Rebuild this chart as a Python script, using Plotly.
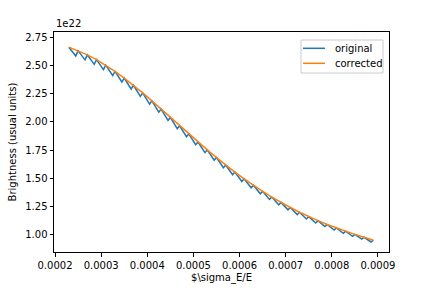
import plotly.graph_objects as go

# sigma_E/E grid of the sawtooth tops (also where the corrected curve is sampled)
x_top = [0.00023, 0.00025, 0.00027, 0.00029, 0.00031, 0.00033, 0.00035, 0.00037,
         0.00039, 0.00041, 0.00043, 0.00045, 0.00047, 0.00049, 0.00051, 0.00053,
         0.00055, 0.00057, 0.00059, 0.00061, 0.00063, 0.00065, 0.00067, 0.00069,
         0.00071, 0.00073, 0.00075, 0.00077, 0.00079, 0.00081, 0.00083, 0.00085,
         0.00087, 0.00089]
# brightness, in units of 1e22
corrected = [2.665, 2.634, 2.597, 2.554, 2.505, 2.450, 2.390, 2.326, 2.258, 2.187,
             2.114, 2.040, 1.966, 1.893, 1.821, 1.751, 1.683, 1.617, 1.554, 1.494,
             1.437, 1.383, 1.332, 1.284, 1.239, 1.197, 1.158, 1.122, 1.088, 1.057,
             1.028, 1.000, 0.974, 0.948]
# sawtooth dips of the original curve
x_dip = [0.000245, 0.000265, 0.000285, 0.000305, 0.000325, 0.000345, 0.000365,
         0.000385, 0.000405, 0.000425, 0.000445, 0.000465, 0.000485, 0.000505,
         0.000525, 0.000545, 0.000565, 0.000585, 0.000605, 0.000625, 0.000645,
         0.000665, 0.000685, 0.000705, 0.000725, 0.000745, 0.000765, 0.000785,
         0.000805, 0.000825, 0.000845, 0.000865, 0.000885]
y_dip = [2.587, 2.552, 2.512, 2.465, 2.413, 2.355, 2.293, 2.227, 2.158, 2.087,
         2.013, 1.940, 1.868, 1.797, 1.727, 1.659, 1.593, 1.530, 1.470, 1.414,
         1.361, 1.311, 1.263, 1.218, 1.176, 1.137, 1.101, 1.069, 1.038, 1.009,
         0.982, 0.957, 0.932]

series_names = ["original", "corrected"]
series_colors = ["#1f77b4", "#ff7f0e"]

x_orig, y_orig = [], []
for i in range(len(x_dip)):
    x_orig += [x_top[i], x_dip[i]]
    y_orig += [corrected[i], y_dip[i]]
x_orig.append(x_top[-1])
y_orig.append(corrected[-1])

x_ticks = [0.0002, 0.0003, 0.0004, 0.0005, 0.0006, 0.0007, 0.0008, 0.0009]
y_ticks = [1.00, 1.25, 1.50, 1.75, 2.00, 2.25, 2.50, 2.75]

fig = go.Figure()
fig.add_trace(go.Scatter(x=x_orig, y=y_orig, mode="lines", name=series_names[0],
                         line=dict(color=series_colors[0], width=1.5), showlegend=False))
fig.add_trace(go.Scatter(x=x_top, y=corrected, mode="lines", name=series_names[1],
                         line=dict(color=series_colors[1], width=1.5), showlegend=False))

font = dict(family="DejaVu Sans", size=10, color="black")
axis_common = dict(showline=True, linecolor="black", linewidth=1, mirror=True,
                   ticks="outside", ticklen=3.5, tickwidth=1, tickcolor="black",
                   showgrid=False, zeroline=False, tickfont=font, automargin=False)
fig.update_layout(
    width=432, height=288,
    margin=dict(l=54, r=43, t=32, b=36),
    paper_bgcolor="white", plot_bgcolor="white",
    font=font,
    xaxis=dict(range=[0.0001978, 0.000924], tickvals=x_ticks,
               ticktext=[f"{v:.4f}" for v in x_ticks],
               title=dict(text="$\\sigma_E/E", font=font, standoff=4), **axis_common),
    yaxis=dict(range=[0.843, 2.80], tickvals=y_ticks,
               ticktext=[f"{v:.2f}" for v in y_ticks],
               title=dict(text="Brightness (usual units)", font=font, standoff=6), **axis_common),
    showlegend=False,
)

# matplotlib-style legend box (upper right)
fig.add_shape(type="rect", xref="paper", yref="paper",
              x0=0.7373, x1=0.9821, y0=0.8136, y1=0.9636,
              line=dict(color="#cccccc", width=1), fillcolor="rgba(255,255,255,0.8)")
row_y = [0.9259, 0.8577]
for name, color, yy in zip(series_names, series_colors, row_y):
    fig.add_shape(type="line", xref="paper", yref="paper",
                  x0=0.7433, x1=0.8090, y0=yy, y1=yy,
                  line=dict(color=color, width=1.5))
    fig.add_annotation(text=name, xref="paper", yref="paper", x=0.8337, y=yy,
                       xanchor="left", yanchor="middle", showarrow=False, font=font)

fig.add_annotation(text="1e22", xref="paper", yref="paper", x=0, y=1,
                   xanchor="left", yanchor="bottom", showarrow=False,
                   font=font, yshift=1)
fig.write_html("out.html")
